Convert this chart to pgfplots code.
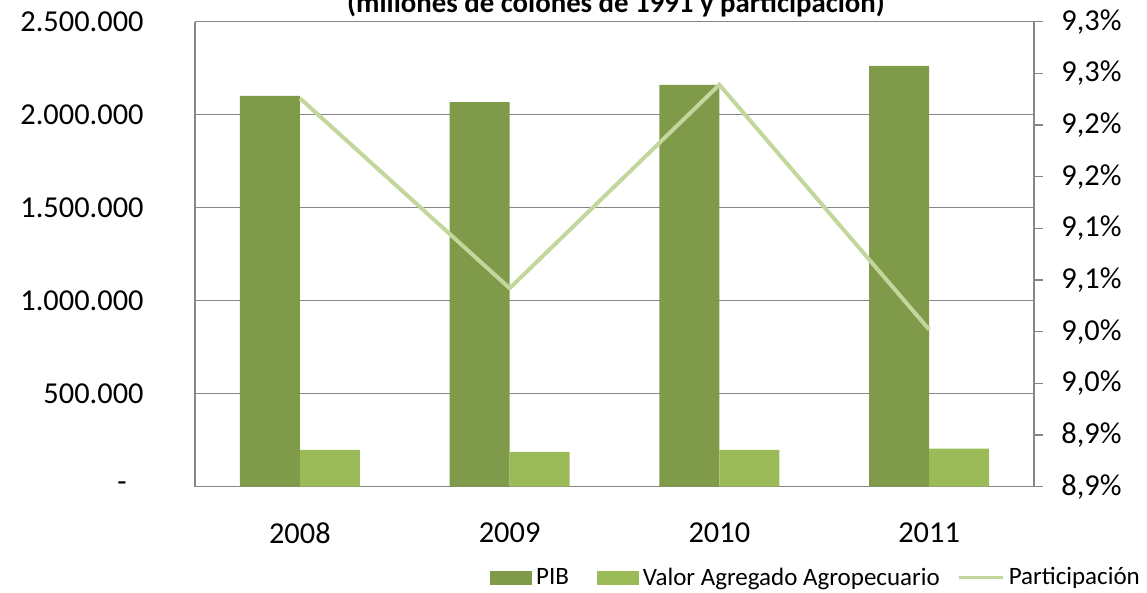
\documentclass[border=0pt]{standalone}
\usepackage{pgfplots}
\pgfplotsset{compat=1.18}
\usepackage{fontspec}
\setmainfont{Carlito}
\definecolor{pib}{HTML}{7F9A48}
\definecolor{vaa}{HTML}{9BBB59}
\definecolor{part}{HTML}{C3D69B}
\definecolor{gridc}{HTML}{868686}

\begin{document}
\begin{tikzpicture}
\begin{axis}[
  scale only axis, width=419.5pt, height=232.45pt,
  at={(97.5pt,53.2pt)}, anchor=south west,
  xmin=-0.5, xmax=3.5, ymin=0, ymax=2500000,
  scaled y ticks=false,
  xtick={0,1,2,3}, xticklabels={2008,2009,2010,2011},
  ytick={0,500000,1000000,1500000,2000000,2500000},
  yticklabels={\hbox{-\kern8.5pt},500.000,1.000.000,1.500.000,2.000.000,2.500.000},
  axis x line*=bottom, axis y line*=left,
  axis line style={gridc, line width=0.6pt, -},
  ymajorgrids, major grid style={gridc, line width=0.6pt},
  major tick length=0pt,
  tick label style={font=\fontsize{15.2}{18}\selectfont},
  yticklabel style={inner xsep=0pt, xshift=-25.5pt},
  xticklabel style={inner ysep=0pt, yshift=-18pt},
  bar width=30pt,
]
\addplot[ybar, bar shift=-15pt, fill=pib, draw=none] coordinates {(0,2100500) (1,2068000) (2,2160000) (3,2262000)};
\addplot[ybar, bar shift=15pt, fill=vaa, draw=none] coordinates {(0,197000) (1,186500) (2,197000) (3,204000)};
\end{axis}
\begin{axis}[
  scale only axis, width=419.5pt, height=232.45pt,
  at={(97.5pt,53.2pt)}, anchor=south west,
  xmin=-0.5, xmax=3.5, ymin=8.85, ymax=9.30,
  scaled y ticks=false,
  axis y line*=right, axis x line=none,
  ytick={8.85,8.90,8.95,9.00,9.05,9.10,9.15,9.20,9.25,9.30},
  yticklabels={{8,9\%},{8,9\%},{9,0\%},{9,0\%},{9,1\%},{9,1\%},{9,2\%},{9,2\%},{9,3\%},{9,3\%}},
  tick align=outside, major tick length=4.5pt,
  tick style={gridc, line width=0.6pt},
  axis line style={gridc, line width=0.6pt, -},
  tick label style={font=\fontsize{15.2}{18}\selectfont},
  yticklabel style={inner xsep=0pt, xshift=9pt},
  legend columns=3,
  legend style={at={(0.3516,-0.1963)}, anchor=west, draw=none, fill=none,
    inner sep=0pt, font=\fontsize{12.5}{15}\selectfont,
    /tikz/every even column/.append style={column sep=7pt}},
]
\addlegendimage{legend image code/.code={\fill[pib] (0pt,-3.2pt) rectangle (20.5pt,3.2pt);}}
\addlegendentry{PIB\kern5pt}
\addlegendimage{legend image code/.code={\fill[vaa] (0pt,-3.2pt) rectangle (20.5pt,3.2pt);}}
\addlegendentry{Valor Agregado Agropecuario}
\addplot[part, line width=2pt, legend image code/.code={\draw[part, line width=1.5pt] (0pt,0pt) -- (22pt,0pt);}] coordinates {(0,9.226) (1,9.042) (2,9.239) (3,9.002)};
\addlegendentry{Participación}
\end{axis}
\node[font=\bfseries\fontsize{14.4}{17}\selectfont, anchor=base] at (308pt,290.25pt) {(millones de colones de 1991 y participación)};
\pgfresetboundingbox
\path[use as bounding box] (0,0) rectangle (573.5pt,296.5pt);
\end{tikzpicture}
\end{document}
